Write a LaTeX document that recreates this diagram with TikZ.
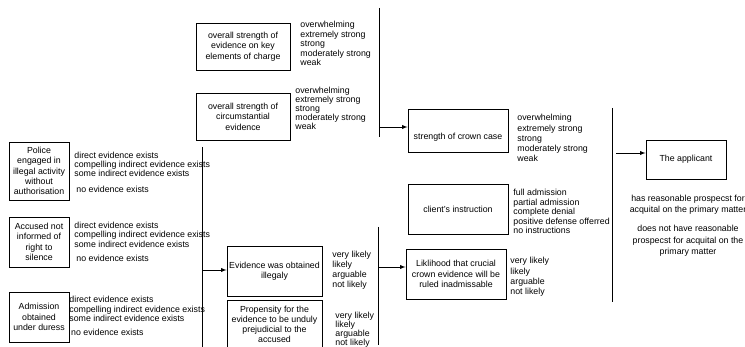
\documentclass[tikz,border=0pt]{standalone}
\usepackage{fontspec}
\setmainfont{Liberation Sans}
\usetikzlibrary{arrows}
\newcommand{\lvlfont}[1]{\fontsize{8.8}{#1}\selectfont}
\tikzstyle{factor} = [rectangle, draw=black, text centered, align=center, inner xsep=1pt, font=\lvlfont{10.4}]
\tikzstyle{levels} = [anchor=north west, align=left, inner sep=0pt]
\tikzstyle{outcome} = [anchor=north, align=center, inner sep=0pt]
\tikzstyle{bar} = [draw=black]
\tikzstyle{feed} = [draw=black, -latex]

\begin{document}
\begin{tikzpicture}[x=1pt, y=-1pt, line width=0.9pt]
        \useasboundingbox (0,0) rectangle (745,347);
        \clip (0,0) rectangle (745,347);

        \node[factor, minimum width=94pt, minimum height=47pt] (key) at (243,46.5) {overall strength of\\evidence on key\\elements of charge};
        \node[factor, minimum width=94pt, minimum height=47pt] (circ) at (243,116.5) {overall strength of\\circumstantial\\evidence};
        \node[factor, minimum width=100pt, inner ysep=3pt, text height=26.9pt, text depth=9.5pt, anchor=north] (crown) at (458,109.3) {strength of crown case};
        \node[factor, minimum width=100pt, minimum height=50pt] (client) at (458,209) {client's instruction};
        \node[factor, minimum width=100pt, minimum height=50pt] (likely) at (456,274) {Liklihood that crucial\\crown evidence will be\\ruled inadmissable};
        \node[factor, minimum width=80pt, minimum height=39pt] (applicant) at (686,159.5) {The applicant};
        \node[factor, minimum width=60pt, minimum height=58pt] (police) at (39,171) {Police\\engaged in\\illegal activity\\without\\authorisation};
        \node[factor, minimum width=60pt, minimum height=50pt] (accused) at (39,242) {Accused not\\informed of\\right to\\silence};
        \node[factor, minimum width=60pt, minimum height=50pt] (duress) at (39,317) {Admission\\obtained\\under duress};
        \node[factor, minimum width=95pt, minimum height=50pt] (illegal) at (274.5,271) {Evidence was obtained\\illegaly};
        \node[factor, minimum width=95pt, inner ysep=6pt, anchor=north, font=\lvlfont{9.8}] (prejud) at (274.5,300) {Propensity for the\\evidence to be unduly\\prejudicial to the\\accused};

        \node[levels, font=\lvlfont{9.4}] (keyval) at (300,21) {overwhelming\\extremely strong\\strong\\moderately strong\\weak};
        \node[levels, font=\lvlfont{9}] (circval) at (295,87) {overwhelming\\extremely strong\\strong\\moderately strong\\weak};
        \node[levels, font=\lvlfont{10.2}] (crownval) at (517,114) {overwhelming\\extremely strong\\strong\\moderately strong\\weak};
        \node[levels, font=\lvlfont{9.5}] (clientval) at (513,189) {full admission\\partial admission\\complete denial\\positive defense offerred\\no instructions};
        \node[levels, font=\lvlfont{10.3}] (likelyval) at (510,257) {very likely\\likely\\arguable\\not likely};
        \node[levels, font=\lvlfont{10}] (illegalval) at (332,250.5) {very likely\\likely\\arguable\\not likely};
        \node[levels, font=\lvlfont{7.8}] (prejudval) at (335,311.5) {very likely\\likely\\arguable\\not likely};
        \node[levels, font=\lvlfont{9.2}] (policeval) at (74,151.5) {direct evidence exists\\compelling indirect evidence exists\\some indirect evidence exists};
        \node[levels, font=\lvlfont{9.2}] (policenone) at (76,185.8) {no evidence exists};
        \node[levels, font=\lvlfont{9.5}] (accusedval) at (74,221.5) {direct evidence exists\\compelling indirect evidence exists\\some indirect evidence exists};
        \node[levels, font=\lvlfont{9.5}] (accusednone) at (76,254.8) {no evidence exists};
        \node[levels, font=\lvlfont{9.5}] (duressval) at (69,295.8) {direct evidence exists\\compelling indirect evidence exists\\some indirect evidence exists};
        \node[levels, font=\lvlfont{9.5}] (duressnone) at (70.7,328.8) {no evidence exists};

        \node[outcome, font=\lvlfont{11}] (prospect) at (688,194.5) {has reasonable prospecst for\\acquital on the primary matter};
        \node[outcome, font=\lvlfont{11.5}] (noprospect) at (688,225) {does not have reasonable\\prospecst for acquital on the\\primary matter};

        \coordinate (b1top) at (202,147);
        \coordinate (b1bot) at (202,347);
        \coordinate (b2top) at (379,8);
        \coordinate (b2bot) at (379,137);
        \coordinate (b3top) at (378,227);
        \coordinate (b3bot) at (378,345);
        \coordinate (b4top) at (612,108);
        \coordinate (b4bot) at (612,302);
        \coordinate (j1) at (202,270);
        \coordinate (j2) at (379,127);
        \coordinate (j3) at (378,267);
        \coordinate (j4) at (616,153);

        \draw [bar] (b1top) -- (b1bot);
        \draw [bar] (b2top) -- (b2bot);
        \draw [bar] (b3top) -- (b3bot);
        \draw [bar] (b4top) -- (b4bot);

        \draw [feed] (j1) -- (illegal.west |- j1);
        \draw [feed] (j2) -- (crown.west |- j2);
        \draw [feed] (j3) -- (likely.west |- j3);
        \draw [feed] (j4) -- (applicant.west |- j4);
    \end{tikzpicture}
\end{document}
